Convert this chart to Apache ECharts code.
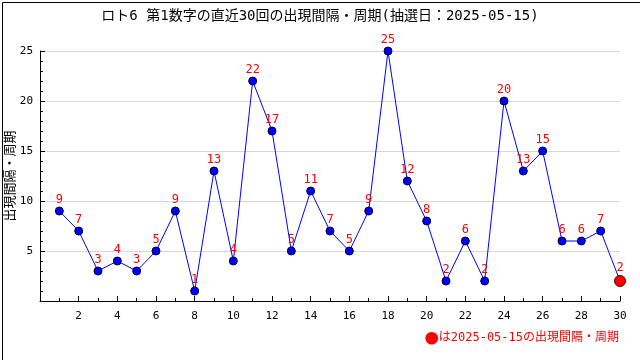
<!DOCTYPE html>
<html><head><meta charset="utf-8">
<script src="https://cdn.jsdelivr.net/npm/echarts@6/dist/echarts.min.js"></script>
<style>html,body{margin:0;padding:0;background:#fff}#c{width:640px;height:360px}</style>
</head><body><div id="c"></div>
<script>
const titleText = 'ロト6 第1数字の直近30回の出現間隔・周期(抽選日：2025-05-15)';
const yName = '出現間隔・周期';
const legendMark = '●';
const legendText = 'は2025-05-15の出現間隔・周期';
const draws = [1,2,3,4,5,6,7,8,9,10,11,12,13,14,15,16,17,18,19,20,21,22,23,24,25,26,27,28,29,30];
const gaps = [9,7,3,4,3,5,9,1,13,4,22,17,5,11,7,5,9,25,12,8,2,6,2,20,13,15,6,6,7,2];

const font = '"DejaVu Sans Mono", "Noto Sans CJK JP", sans-serif';
const cjk = '"Noto Sans CJK JP", sans-serif';
const data = draws.map((d, i) => {
  const last = i === draws.length - 1;
  return {
    value: [d, gaps[i]],
    symbolSize: last ? 11 : 8,
    itemStyle: last ? {color: '#ff0000', borderColor: '#550000', borderWidth: 1}
                    : {color: '#0000ff', borderColor: '#000033', borderWidth: 1}
  };
});

const chart = echarts.init(document.getElementById('c'), null, {renderer: 'canvas'});
chart.setOption({
  animation: false,
  backgroundColor: '#fff',
  title: {text: titleText, left: 'center', top: 4,
    textStyle: {fontFamily: font, fontSize: 14, fontWeight: 'normal', color: '#000'}},
  grid: {left: 40, right: 20, top: 51, bottom: 59, containLabel: false, outerBoundsMode: 'none'},
  xAxis: {type: 'value', min: 0, max: 30, interval: 2,
    axisLine: {lineStyle: {color: '#000', width: 1}},
    axisTick: {inside: true, length: 5, lineStyle: {color: '#000'}},
    minorTick: {show: true, splitNumber: 2, length: 3, lineStyle: {color: '#000'}},
    splitLine: {show: false},
    axisLabel: {fontFamily: font, fontSize: 11, color: '#000', margin: 10,
      formatter: v => v === 0 ? '' : String(v)}
  },
  yAxis: {type: 'value', min: 0, max: 25, interval: 5,
    axisLine: {show: true, lineStyle: {color: '#000', width: 1}},
    axisTick: {show: true, inside: true, length: 5, lineStyle: {color: '#000'}},
    minorTick: {show: true, splitNumber: 5, length: 3, lineStyle: {color: '#000'}},
    splitLine: {show: true, lineStyle: {color: '#d8d8d8', width: 1}},
    axisLabel: {fontFamily: font, fontSize: 11, color: '#000', margin: 7,
      formatter: v => v === 0 ? '' : String(v)}
  },
  series: [{
    type: 'line', data: data, symbol: 'circle',
    lineStyle: {color: '#0000ff', width: 1},
    label: {show: true, position: 'top', distance: 1, color: '#ff0000',
      fontFamily: font, fontSize: 12, formatter: p => p.value[1]},
    z: 3
  }],
  graphic: [
    {type: 'rect', left: 0, top: 0, shape: {x: 0.5, y: 0.5, width: 638, height: 358.5},
      style: {fill: null, stroke: '#000', lineWidth: 1}, silent: true},
    {type: 'text', x: 9, y: 176, rotation: Math.PI / 2,
      style: {text: yName, fill: '#000', font: '13px ' + cjk, align: 'center', verticalAlign: 'middle'}},
    {type: 'text', right: 21, top: 331,
      style: {text: '{m|' + legendMark + '}{t|' + legendText + '}',
        rich: {m: {fill: '#ff0000', fontFamily: cjk, fontSize: 14},
               t: {fill: '#ff0000', fontFamily: font, fontSize: 12}}}}
  ]
});
</script></body></html>
